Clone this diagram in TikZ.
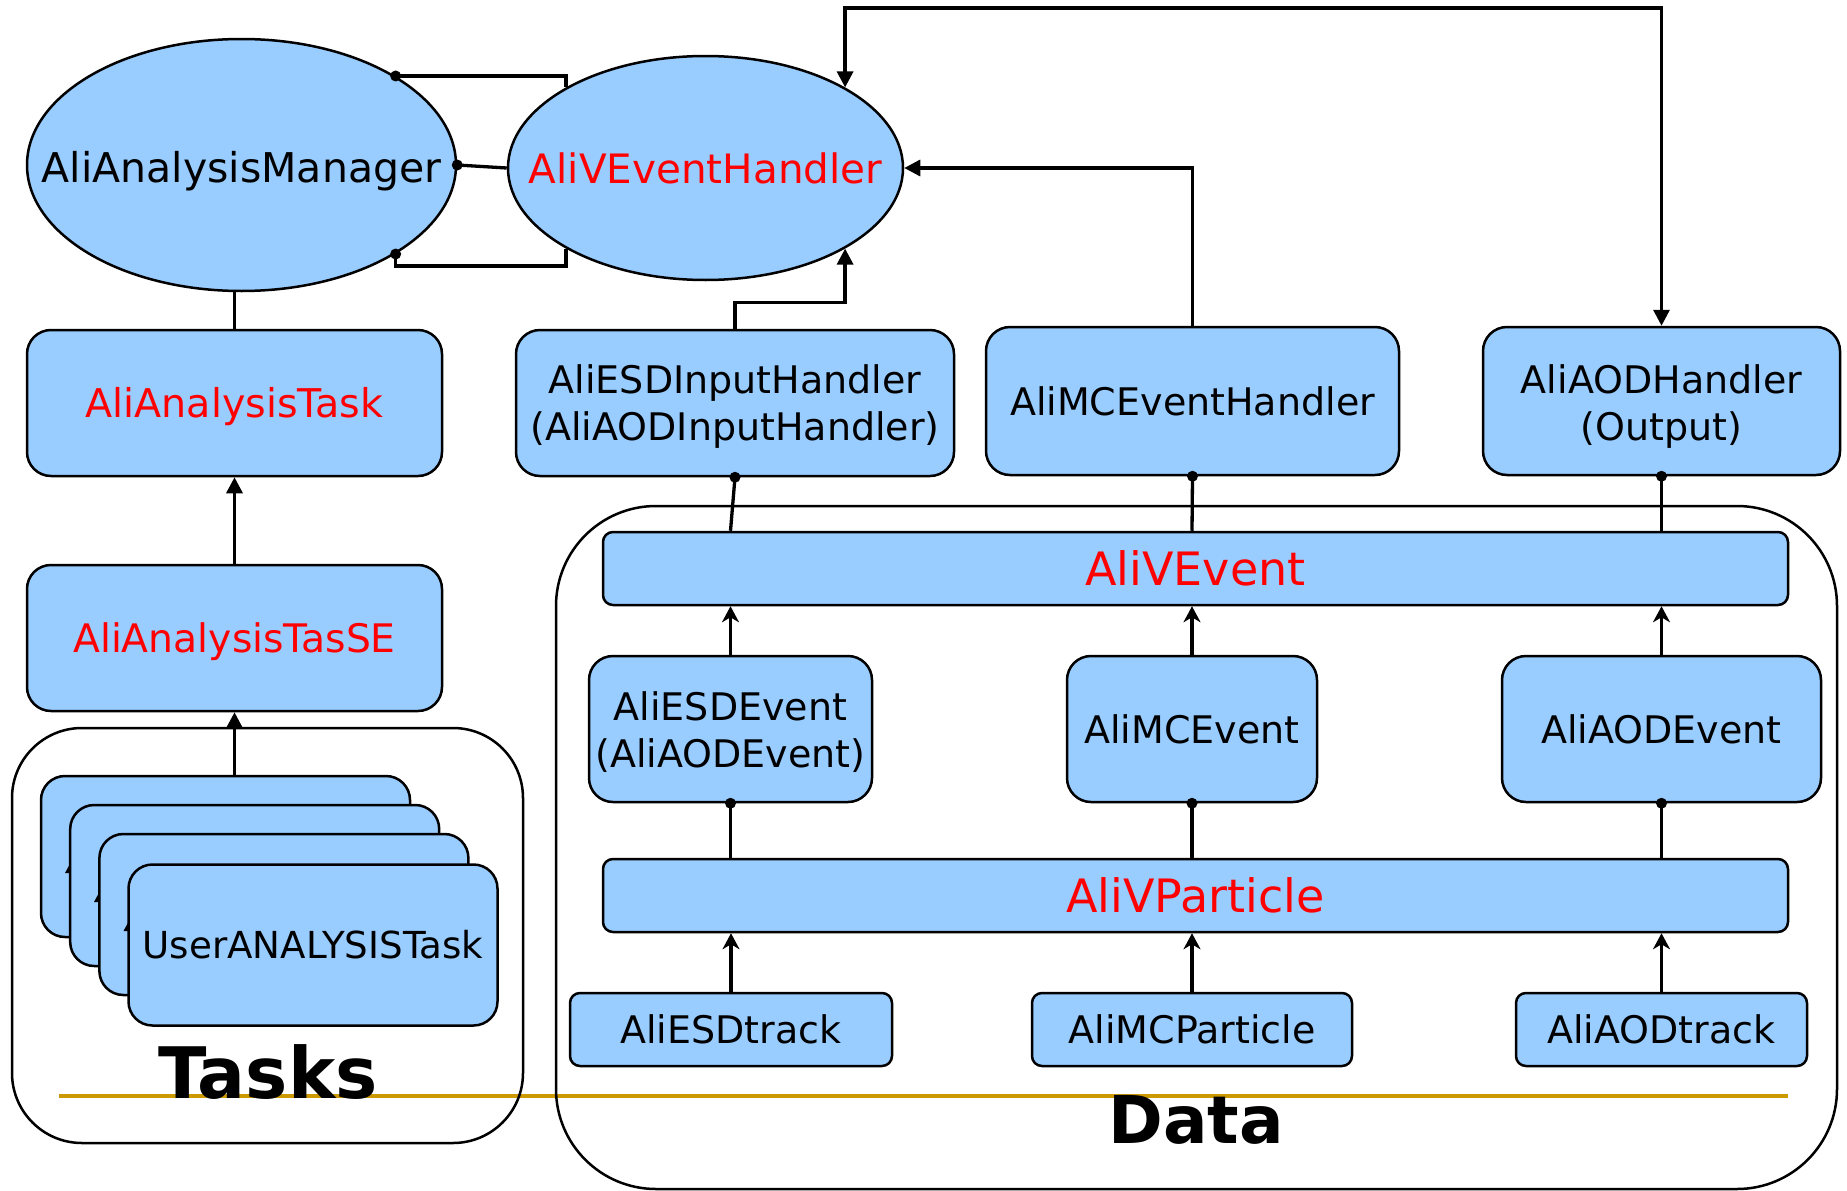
\documentclass[tikz,border=0pt]{standalone}
\usepackage{fontspec}
\setmainfont{DejaVu Sans}
\usetikzlibrary{arrows.meta,shapes.geometric}
\definecolor{boxblue}{RGB}{153,204,255}
\definecolor{goldline}{RGB}{204,153,0}
\definecolor{redtxt}{RGB}{255,0,0}
\begin{document}
\begin{tikzpicture}[x=1pt,y=-1pt,
  hbox/.style={draw=black, line width=2.5pt, fill=boxblue, rounded corners=24pt, inner sep=0pt, align=center, font=\fontsize{38}{47}\selectfont},
  hone/.style={hbox, text height=28pt, text depth=0pt},
  hbar/.style={hbox, rounded corners=10pt, font=\fontsize{46}{55}\selectfont, text height=34pt, text depth=0pt, text=redtxt},
  hsmall/.style={hone, rounded corners=10pt},
  htext/.style={inner sep=0pt, align=center, font=\fontsize{38}{47}\selectfont},
  hoval/.style={ellipse, draw=black, line width=2.5pt, fill=boxblue, inner sep=0pt},
  conn/.style={line width=3.3pt},
  arrT/.style={conn, -{Triangle[length=16pt,width=16pt]}},
  arrTT/.style={conn, {Triangle[length=16pt,width=16pt]}-{Triangle[length=16pt,width=16pt]}},
  arrS/.style={conn, -{Stealth[length=16pt,width=17pt,inset=5pt]}},
  cont/.style={draw=black, line width=2.5pt},
  biglabel/.style={font=\bfseries\fontsize{70}{82}\selectfont, inner sep=0pt}
]
\useasboundingbox (0,0) rectangle (1847,1191);

% gold line and containers
\draw[goldline, line width=4pt] (59,1096) -- (1788,1096);
\draw[cont, rounded corners=70pt] (12,728) rectangle (523,1143);
\draw[cont, rounded corners=100pt] (556,506) rectangle (1837,1189);
\node[biglabel, anchor=base, font=\bfseries\fontsize{71}{82}\selectfont] (tasks) at (268,1098) {Tasks};
\node[biglabel, anchor=base, font=\bfseries\fontsize{66}{78}\selectfont] (data) at (1196,1143) {Data};

% ellipses
\node[hoval, minimum width=429pt, minimum height=252pt] (AM) at (241.5,165) {};
\node[font=\fontsize{41}{49}\selectfont, inner sep=0pt, anchor=base] (AMt) at (241.5,182) {AliAnalysisManager};
\node[hoval, minimum width=395pt, minimum height=224pt] (AVEH) at (705.5,168) {};
\node[font=\fontsize{40.5}{48}\selectfont, inner sep=0pt, anchor=base, text=redtxt] (AVEHt) at (705.5,183) {AliVEventHandler};

% handler row
\node[hone, minimum width=415pt, minimum height=146pt, text=redtxt, font=\fontsize{39.6}{47}\selectfont] (ATask) at (234.5,403) {AliAnalysisTask};
\node[hbox, minimum width=438pt, minimum height=146pt] (ESDIH) at (735,403) {};
\node[htext] (ESDIHt) at (735,407) {AliESDInputHandler\\(AliAODInputHandler)};
\node[hone, minimum width=413pt, minimum height=148pt] (MCEH) at (1192.5,401) {AliMCEventHandler};
\node[hbox, minimum width=357pt, minimum height=148pt] (AODH) at (1661.5,401) {};
\node[htext] (AODHt) at (1661.5,407) {AliAODHandler\\(Output)};

\node[hone, minimum width=415pt, minimum height=146pt, text=redtxt, font=\fontsize{39.3}{47}\selectfont] (ATaskSE) at (234.5,638) {AliAnalysisTasSE};

% user task stack
\node[hbox, minimum width=369pt, minimum height=161pt] (S1) at (225.5,856.5) {};
\fill (71,862) -- (65,873) -- (77,873) -- cycle;
\node[hbox, minimum width=369pt, minimum height=161pt] (S2) at (254.7,885.5) {};
\fill (100,891) -- (94,902) -- (106,902) -- cycle;
\node[hbox, minimum width=369pt, minimum height=161pt] (S3) at (283.9,914.5) {};
\fill (129.5,920) -- (123.5,931) -- (135.5,931) -- cycle;
\node[hone, minimum width=369pt, minimum height=161pt, font=\fontsize{37.2}{44}\selectfont, text height=27pt] (S4) at (313,945) {UserANALYSISTask};

% data area
\node[hbar, minimum width=1185pt, minimum height=73pt] (VE) at (1195.5,568.5) {AliVEvent};
\node[hbox, minimum width=283pt, minimum height=146pt] (ESDE) at (730.5,729) {};
\node[htext] (ESDEt) at (730.5,732) {AliESDEvent\\(AliAODEvent)};
\node[hone, minimum width=250pt, minimum height=146pt] (MCE) at (1192,729) {AliMCEvent};
\node[hone, minimum width=319pt, minimum height=146pt] (AODE) at (1661.5,729) {AliAODEvent};
\node[hbar, minimum width=1185pt, minimum height=73pt] (VP) at (1195.5,895.5) {AliVParticle};
\node[hsmall, minimum width=322pt, minimum height=73pt] (ESDT) at (731,1029.5) {AliESDtrack};
\node[hsmall, minimum width=320pt, minimum height=73pt] (MCP) at (1192,1029.5) {AliMCParticle};
\node[hsmall, minimum width=291pt, minimum height=73pt] (AODT) at (1661.5,1029.5) {AliAODtrack};

% connectors: manager / handler
\draw[conn] (AM.30) -| (AVEH.150);
\draw[conn] (AM.east) -- (AVEH.west);
\draw[conn] (AM.-30) -- ++(0,12) -| (AVEH.210);
\fill (AM.30) circle (5.5pt);
\fill (AM.east) circle (5.5pt);
\fill (AM.-30) circle (5.5pt);

\draw[conn] (ATask.north) -- (ATask.north |- AM.south);
\draw[arrT] (ATaskSE.north) -- (ATask.south);
\draw[arrT] (S1.north -| ATaskSE.south) -- (ATaskSE.south);

\coordinate (topc) at (1661.5,8);
\draw[arrTT] (AVEH.30) |- (topc) -- (AODH.north);
\draw[arrT] (ESDIH.north) -- ++(0,-26) -| (AVEH.-30);
\draw[arrT] (MCEH.north) |- (AVEH.east);

% connectors: data columns
\draw[conn] (ESDIH.south) -- (VE.north -| ESDE.north);
\draw[conn] (MCEH.south) -- (VE.north -| MCE.north);
\draw[conn] (AODH.south) -- (VE.north -| AODE.north);
\fill (ESDIH.south) circle (5.5pt);
\fill (MCEH.south) circle (5.5pt);
\fill (AODH.south) circle (5.5pt);

\draw[arrS] (ESDE.north) -- (ESDE.north |- VE.south);
\draw[arrS] (MCE.north) -- (MCE.north |- VE.south);
\draw[arrS] (AODE.north) -- (AODE.north |- VE.south);

\draw[conn] (ESDE.south) -- (ESDE.south |- VP.north);
\draw[conn] (MCE.south) -- (MCE.south |- VP.north);
\draw[conn] (AODE.south) -- (AODE.south |- VP.north);
\fill (ESDE.south) circle (5.5pt);
\fill (MCE.south) circle (5.5pt);
\fill (AODE.south) circle (5.5pt);

\draw[arrS] (ESDT.north) -- (ESDT.north |- VP.south);
\draw[arrS] (MCP.north) -- (MCP.north |- VP.south);
\draw[arrS] (AODT.north) -- (AODT.north |- VP.south);
\end{tikzpicture}
\end{document}
